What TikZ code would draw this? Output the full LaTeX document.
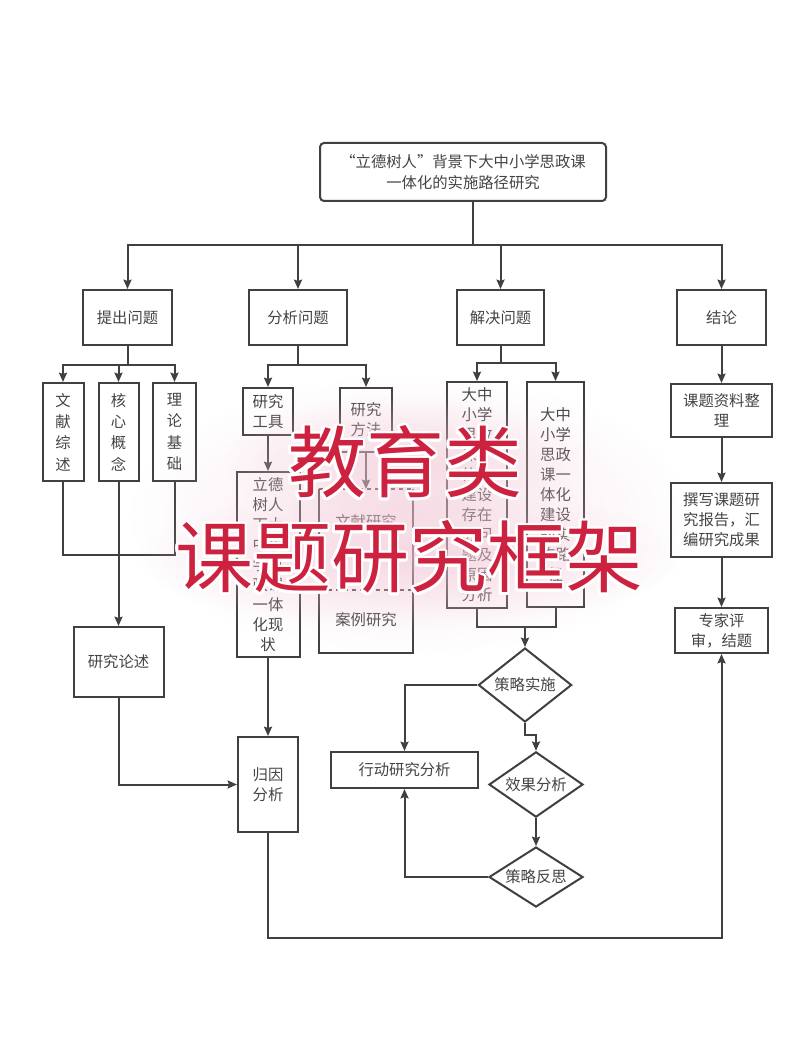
\documentclass[tikz,border=0pt]{standalone}
\usepackage{fontspec}
\setmainfont{Noto Sans CJK SC}
\usetikzlibrary{shapes.geometric,arrows.meta,positioning,fadings}

\definecolor{linegray}{HTML}{404040}
\definecolor{textgray}{HTML}{444444}
\definecolor{markred}{RGB}{204,34,64}
\definecolor{glowpink}{RGB}{242,196,211}

\tikzfading[name=glowfade, inner color=transparent!35, outer color=transparent!100]

\tikzset{
  box/.style={draw=linegray, line width=1.5pt, fill=white, inner sep=0pt,
    align=center, text=textgray, font=\fontsize{11.5}{15}\selectfont},
  vbox/.style={box, font=\fontsize{11.5}{16}\selectfont},
  choice/.style={box, diamond, shape aspect=1.4},
  link/.style={draw=linegray, line width=1.5pt},
  arr/.style={link, -{Stealth[length=7pt,width=6pt,inset=1pt]}},
  wmark/.style={inner sep=0pt, text=markred, font=\fontsize{58.5}{58.5}\selectfont}
}

\begin{document}
\begin{tikzpicture}[x=0.75pt,y=-0.75pt]
  \fill[white] (0,0) rectangle (800,1044);
  \useasboundingbox (0,0) rectangle (800,1044);

  % title and the four stages
  \node[box, rounded corners=3pt, minimum width=214.5pt, minimum height=43.5pt,
    font=\fontsize{11.5}{16}\selectfont] (title) at (463,172)
    {“立德树人”背景下大中小学思政课\\一体化的实施路径研究};
  \node[box, minimum width=66.75pt, minimum height=41.25pt] (ask) at (127.5,317.5) {提出问题};
  \node[box, minimum width=73.5pt, minimum height=41.25pt] (analyse) at (298,317.5) {分析问题};
  \node[box, minimum width=65.25pt, minimum height=41.25pt] (solve) at (500.5,317.5) {解决问题};
  \node[box, minimum width=66.75pt, minimum height=41.25pt] (concl) at (721.5,317.5) {结论};

  \coordinate (topbus) at (473,245);
  \draw[link] (title.south -| topbus) -- (topbus);
  \foreach \n in {ask,analyse,solve,concl}
    \draw[arr] (topbus) -| (\n.north);

  % ask
  \node[vbox, minimum width=30.75pt, minimum height=73.5pt] (lit) at (63,432) {文\\献\\综\\述};
  \node[vbox, minimum width=30pt, minimum height=73.5pt] (core) at (118.5,432) {核\\心\\概\\念};
  \node[vbox, minimum width=32.25pt, minimum height=73.5pt] (theory) at (174.5,432) {理\\论\\基\\础};
  \node[box, minimum width=67.5pt, minimum height=52.5pt] (review) at (118.5,662) {研究论述};

  \coordinate (askbus) at (127.5,365);
  \draw[link] (ask.south) -- (askbus);
  \foreach \n in {lit,core,theory}
    \draw[arr] (askbus) -| (\n.north);
  \coordinate (litjoin) at (118.5,555);
  \draw[link] (lit.south) |- (litjoin) -| (theory.south);
  \draw[arr] (core.south) -- (review.north);

  % analyse
  \node[box, minimum width=37.5pt, minimum height=35.25pt] (tool) at (268,411.5) {研究\\工具};
  \node[box, minimum width=39pt, minimum height=48pt] (method) at (366,420) {研究\\方法};
  \node[box, minimum width=47.25pt, minimum height=138.75pt] (status) at (268,564.5)
    {立德\\树人\\下大\\中小\\学思\\政课\\一体\\化现\\状};
  \node[box, draw=none, minimum width=69pt, minimum height=121.5pt] (methods) at (366,571) {};
  \draw[link] (methods.north west) -- (methods.south west) -- (methods.south east) -- (methods.north east);
  \draw[link, dashed] (methods.north west) -- (methods.north east);
  \draw[link, dashed] (320,590) -- (412,590);
  \node[text=textgray, font=\fontsize{11.5}{15}\selectfont] (litstudy) at (366,522) {文献研究};
  \node[text=textgray, font=\fontsize{11.5}{15}\selectfont] (casestudy) at (366,620) {案例研究};
  \node[box, minimum width=45pt, minimum height=71.25pt] (cause) at (268,784.5) {归因\\分析};

  \coordinate (anabus) at (298,365);
  \draw[link] (analyse.south) -- (anabus);
  \foreach \n in {tool,method}
    \draw[arr] (anabus) -| (\n.north);
  \draw[arr] (tool.south) -- (status.north);
  \draw[arr] (method.south) -- (methods.north);
  \draw[arr] (status.south) -- (cause.north);
  \draw[arr] (review.south) |- (cause.west);

  % solve
  \node[box, minimum width=45pt, minimum height=169.5pt] (probl) at (477,495)
    {大中\\小学\\思政\\课一\\体化\\建设\\存在\\的问\\题及\\原因\\分析};
  \node[box, minimum width=42.75pt, minimum height=168.75pt] (path) at (555.5,494.5)
    {大中\\小学\\思政\\课一\\体化\\建设\\的实\\施路\\径};
  \node[choice, minimum width=70pt, minimum height=55.5pt] (implement) at (525,685) {策略实施};
  \node[box, minimum width=110.25pt, minimum height=27pt] (action) at (404.5,770) {行动研究分析};
  \node[choice, minimum width=70.5pt, minimum height=49pt] (effect) at (536,784.5) {效果分析};
  \node[choice, minimum width=70.5pt, minimum height=45pt] (reflect) at (536,877) {策略反思};

  \coordinate (solbus) at (500.5,363);
  \draw[link] (solve.south) -- (solbus);
  \foreach \n in {probl,path}
    \draw[arr] (solbus) -| (\n.north);
  \coordinate (soljoin) at (525,627);
  \draw[link] (probl.south) |- (soljoin) -| (path.south);
  \draw[arr] (soljoin) -- (implement.north);
  \draw[arr] (implement.west) -| (action.north);
  \coordinate (bend) at (536,735);
  \draw[arr] (implement.south) |- (bend) -- (effect.north);
  \draw[arr] (effect.south) -- (reflect.north);
  \draw[arr] (reflect.west) -| (action.south);

  % conclusion
  \node[box, minimum width=75.75pt, minimum height=39.75pt] (sort) at (721.5,410.5) {课题资料整\\理};
  \node[box, minimum width=75.75pt, minimum height=55.5pt] (report) at (721.5,520)
    {撰写课题研\\究报告，汇\\编研究成果};
  \node[box, minimum width=69.75pt, minimum height=33.75pt] (finish) at (721.5,630.5) {专家评\\审，结题};

  \draw[arr] (concl.south) -- (sort.north);
  \draw[arr] (sort.south) -- (report.north);
  \draw[arr] (report.south) -- (finish.north);
  \coordinate (bottom) at (721.5,938);
  \draw[arr] (cause.south) |- (bottom) -- (finish.south);

  % watermark
  \fill[glowpink, opacity=0.6, path fading=glowfade, fit fading=true] (410,515) ellipse [x radius=210pt, y radius=105pt];
  \fill[glowpink, opacity=0.8, path fading=glowfade, fit fading=true] (405,462) ellipse [x radius=135pt, y radius=50pt];
  \fill[glowpink, opacity=0.8, path fading=glowfade, fit fading=true] (409,557) ellipse [x radius=205pt, y radius=52pt];
  \foreach \a in {0,30,...,330} {
    \node[wmark, text=white, shift={(\a:2pt)}] (wa\a) at (405,462) {教育类};
    \node[wmark, text=white, shift={(\a:2pt)}] (wb\a) at (409,557) {课题研究框架};
  }
  \node[wmark] (wmtop) at (405,462) {教育类};
  \node[wmark] (wmbot) at (409,557) {课题研究框架};
\end{tikzpicture}
\end{document}
